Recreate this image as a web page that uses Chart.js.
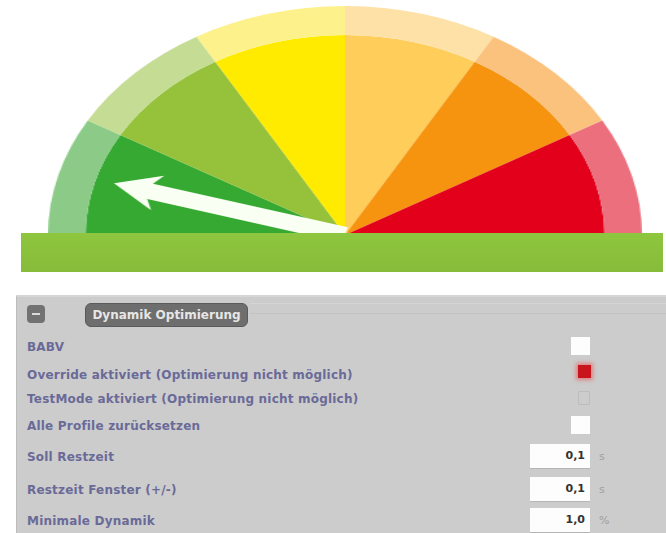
<!DOCTYPE html>
<html><head><meta charset="utf-8">
<script src="https://cdn.jsdelivr.net/npm/chart.js@4/dist/chart.umd.min.js"></script>
<style>
html,body{margin:0;padding:0;background:#fff;width:666px;height:533px;overflow:hidden;position:relative;font-family:"DejaVu Sans",Verdana,sans-serif;}
#gwrap{position:absolute;left:116px;top:6px;width:458px;height:229px;transform:scaleX(1.297);transform-origin:229px 50%;}
#base{position:absolute;left:21px;top:233px;width:642px;height:39px;background:linear-gradient(#8ec63f,#87bc3a);}
#panel{position:absolute;left:16px;top:295px;width:650px;height:238px;background:#cccccc;border-left:1px solid #bdbdbd;border-top:2px solid #d6d6d6;box-sizing:border-box;}
#hline{position:absolute;left:250px;top:313px;width:416px;height:1px;background:#c2c2c2;}
#hline2{position:absolute;left:250px;top:303px;width:416px;height:1px;background:#d4d4d4;}
#minus{position:absolute;left:27px;top:305px;width:18px;height:18px;background:#727272;border-radius:4px;}
#minus:after{content:"";position:absolute;left:5px;top:8px;width:8px;height:2px;background:#dcdcdc;}
#pill{position:absolute;left:85px;top:303px;width:163px;height:24px;background:#6e6e6e;border:1px solid #5a5a5a;border-radius:6px;box-sizing:border-box;color:#e6e6e6;font-weight:bold;font-size:12px;line-height:22px;text-align:center;}
.lbl{position:absolute;left:27px;color:#6a6a98;font-weight:bold;font-size:12px;letter-spacing:0.2px;line-height:14px;white-space:nowrap;}
.cb{position:absolute;background:#fdfdfd;}
.red{position:absolute;background:#c8141c;box-shadow:0 0 4px 2px rgba(235,80,80,0.6);}
.dis{position:absolute;border:1px solid #bdbdbd;box-sizing:border-box;}
.inp{position:absolute;left:530px;width:60px;height:25px;background:#fdfdfd;border-bottom:1px solid #b5b5b5;box-sizing:border-box;text-align:right;padding-right:5px;font-weight:bold;font-size:11px;line-height:24px;color:#333;}
.unit{position:absolute;left:599px;font-size:11px;color:#a0a0a0;line-height:14px;}
</style></head>
<body>
<div id="gwrap"><canvas id="c"></canvas></div>
<div id="base"></div>
<div id="panel"></div>
<div id="hline2"></div>
<div id="hline"></div>
<div id="minus"></div>
<div id="pill"></div>
<div id="rows"></div>
<script>
// ---- data ----
const zoneLabels = ['sehr gut', 'gut', 'ok', 'mittel', 'hoch', 'kritisch'];
const zoneValues = [10, 10, 10, 10, 10, 10];
const needleValue = 5.4; // on scale 0..60
const panelTitle = 'Dynamik Optimierung';
const settingLabels = [
  'BABV',
  'Override aktiviert (Optimierung nicht möglich)',
  'TestMode aktiviert (Optimierung nicht möglich)',
  'Alle Profile zurücksetzen',
  'Soll Restzeit',
  'Restzeit Fenster (+/-)',
  'Minimale Dynamik'
];
const settingValues = [null, null, null, null, '0,1', '0,1', '1,0'];
const settingUnits = [null, null, null, null, 's', 's', '%'];
const settingStates = ['off', 'on', 'disabled', 'off', 'input', 'input', 'input'];

// ---- styles ----
const innerColors = ['#36a932', '#95c13b', '#ffeb00', '#fecd5a', '#f6930f', '#e2001b'];
const outerColors = ['#8ccb87', '#c4dc93', '#fdf18c', '#fde1a6', '#fbc27d', '#ec6f7e'];

const needlePlugin = {
  id: 'needle',
  afterDatasetsDraw(chart) {
    const arcs = chart.getDatasetMeta(1).data;
    const first = arcs[0], last = arcs[arcs.length - 1];
    const R = chart.getDatasetMeta(0).data[0].outerRadius;
    const total = zoneValues.reduce((a, b) => a + b, 0);
    const ang = first.startAngle + (needleValue / total) * (last.endAngle - first.startAngle);
    const ctx = chart.ctx;
    ctx.save();
    ctx.translate(first.x, first.y);
    ctx.rotate(ang);
    const L = R * 0.81, head = 29, hw = 18, sw = 8;
    ctx.beginPath();
    ctx.moveTo(0, -sw);
    ctx.lineTo(L - head, -sw);
    ctx.lineTo(L - head - 6, -hw);
    ctx.lineTo(L, 0);
    ctx.lineTo(L - head - 6, hw);
    ctx.lineTo(L - head, sw);
    ctx.lineTo(0, sw);
    ctx.closePath();
    ctx.fillStyle = '#f9fff2';
    ctx.fill();
    ctx.restore();
  }
};

new Chart(document.getElementById('c'), {
  type: 'doughnut',
  data: {
    labels: zoneLabels,
    datasets: [
      { data: zoneValues, backgroundColor: outerColors, borderWidth: 0, weight: 29 },
      { data: zoneValues, backgroundColor: innerColors, borderWidth: 0, weight: 200 }
    ]
  },
  options: {
    responsive: true,
    maintainAspectRatio: false,
    animation: false,
    events: [],
    rotation: -90,
    circumference: 180,
    cutout: 0,
    hoverOffset: 0,
    layout: { padding: 0 },
    plugins: { legend: { display: false }, tooltip: { enabled: false } }
  },
  plugins: [needlePlugin]
});

// ---- panel ----
document.getElementById('pill').textContent = panelTitle;
const rowCenters = [347, 375, 399, 426, 457, 490, 521];
const rows = document.getElementById('rows');
settingLabels.forEach((t, i) => {
  const y = rowCenters[i];
  const l = document.createElement('div');
  l.className = 'lbl'; l.textContent = t; l.style.top = (y - 7) + 'px';
  rows.appendChild(l);
  const s = settingStates[i];
  let c = document.createElement('div');
  if (s === 'off') {
    c.className = 'cb'; Object.assign(c.style, { left: '571px', top: (y - 10) + 'px', width: '19px', height: '18px' });
  } else if (s === 'on') {
    c.className = 'red'; Object.assign(c.style, { left: '578px', top: (y - 10) + 'px', width: '13px', height: '13px' });
  } else if (s === 'disabled') {
    c.className = 'dis'; Object.assign(c.style, { left: '578px', top: (y - 8) + 'px', width: '12px', height: '14px' });
  } else {
    c.className = 'inp'; c.textContent = settingValues[i]; c.style.top = (y - 13) + 'px';
    const u = document.createElement('div');
    u.className = 'unit'; u.textContent = settingUnits[i]; u.style.top = (y - 7) + 'px';
    rows.appendChild(u);
  }
  rows.appendChild(c);
});
</script>
</body></html>
